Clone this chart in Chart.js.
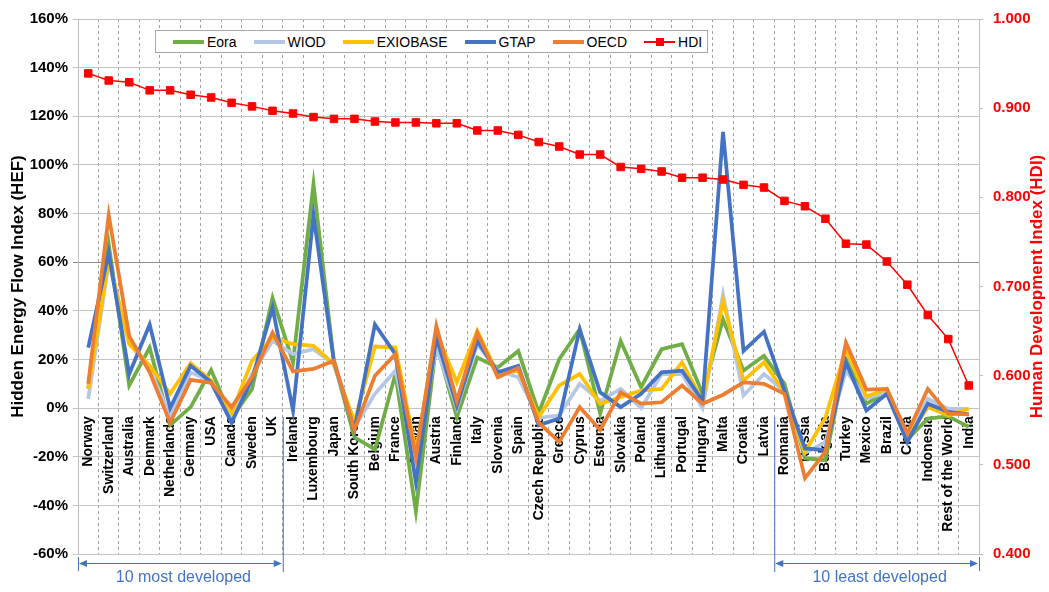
<!DOCTYPE html>
<html>
<head>
<meta charset="utf-8">
<script src="https://cdn.jsdelivr.net/npm/chart.js@4/dist/chart.umd.min.js"></script>
<style>
  html, body { margin: 0; padding: 0; background: #fff; }
  #wrap { position: relative; width: 1049px; height: 592px; }
  #c { display: block; }
  #legend {
    position: absolute; left: 155px; top: 30px; width: 553px; height: 23px;
    border: 1px solid #a6a6a6; background: #fff; box-sizing: border-box;
    display: flex; align-items: center; padding-left: 17px;
    font: 14px "Liberation Sans", Arial, sans-serif; color: #000;
  }
  .item { display: flex; align-items: center; margin-right: 17px; white-space: nowrap; }
  .sw { position: relative; width: 31px; height: 12px; margin-right: 3px; }
  .sw .ln { position: absolute; left: 0; right: 0; top: 4px; height: 4px; }
  .sw .ln.thin { top: 5px; height: 2px; }
  .sw .mk { position: absolute; left: 12px; top: 2px; width: 8px; height: 8px; }
</style>
</head>
<body>
<div id="wrap">
  <canvas id="c" width="1049" height="592"></canvas>
  <div id="legend"></div>
</div>
<script>
// Countries ordered by Human Development Index, highest first
const categories = ['Norway', 'Switzerland', 'Australia', 'Denmark', 'Netherlands', 'Germany', 'USA', 'Canada', 'Sweden', 'UK',
  'Ireland', 'Luxembourg', 'Japan', 'South Korea', 'Belgium', 'France', 'Taiwan', 'Austria', 'Finland', 'Italy',
  'Slovenia', 'Spain', 'Czech Republic', 'Greece', 'Cyprus', 'Estonia', 'Slovakia', 'Poland', 'Lithuania', 'Portugal',
  'Hungary', 'Malta', 'Croatia', 'Latvia', 'Romania', 'Russia', 'Bulgaria', 'Turkey', 'Mexico', 'Brazil',
  'China', 'Indonesia', 'Rest of the World', 'India'];

// Hidden Energy Flow index (%) per MRIO database
const eora = [8, 67.4, 9.3, 24.9, -7, 0.4, 15.7, -4, 7.9, 45.3,
  18.8, 92.2, 19, -12, -17, 14, -42.4, 26.4, -3.7, 20.8,
  16.7, 23.5, -2, 20.1, 32.4, -2.3, 27.6, 8.6, 24.2, 26.3,
  5.9, 36.5, 15.4, 21.5, 10, -20.7, -21.3, 20.1, 1.8, 6.5,
  -13, -4.3, -3.4, -7.7];
const wiod = [3.8, 60, 27, 16, -3, 14.7, 11, -3, 14, 27.6,
  22.2, 24.2, 18, -8, 5.9, 15.4, -22, 24.9, 0, 26.3,
  15.4, 12.7, -4, -3, 10, 3, 7.9, 0, 14, 14,
  0, 46.6, 5.2, 14, 7, -18.5, -14, 15.4, 4, 6.5,
  -12, 3.8, -0.3, -0.3];
const exiobase = [7.9, 61, 26.3, 17.4, 5.9, 18.4, 11.3, -2, 19.5, 29,
  26.3, 25.6, 18, -5.7, 25.3, 24.9, -18, 31, 10.6, 31.7,
  14, 15.4, -3.7, 9.3, 14, 1.8, 4.5, 7.2, 7.9, 18.8,
  3, 44, 11.3, 18.8, 6.5, -18, -4, 24.2, 4.8, 7.9,
  -12, 0.4, -3, -0.3];
const gtap = [24.9, 63.7, 14, 34.4, 0, 17.4, 10.6, -6, 12, 41.2,
  -1, 79.3, 19, -9, 34.4, 22.2, -30.5, 29, 1, 27.6,
  14.7, 17.4, -7, -4.3, 32.4, 6.5, 0.4, 5.9, 14.7, 15.4,
  3, 113.6, 23.5, 31.4, 7.2, -16.6, -17.3, 18.8, -1, 5.9,
  -14, 1.8, -1.6, -2.6];
const oecd = [10, 79.3, 29.7, 14.7, -6, 11.6, 10.4, 0.4, 12.7, 31,
  15.1, 16.1, 19.5, -9, 13.3, 22.2, -20, 33.8, 3, 31,
  12.7, 16.5, -6, -13.9, 0.4, -9, 6.5, 1.8, 2.4, 9.3,
  1.8, 5.5, 10.6, 10, 5.9, -28.8, -18, 26.9, 7.6, 7.9,
  -10.4, 7.9, -2.3, -2.6];

// Human Development Index (right axis)
const hdi = [0.939, 0.931, 0.929, 0.920, 0.920, 0.915, 0.912, 0.906, 0.902, 0.897,
  0.894, 0.890, 0.888, 0.888, 0.885, 0.884, 0.884, 0.883, 0.883, 0.875,
  0.875, 0.870, 0.862, 0.857, 0.848, 0.848, 0.834, 0.832, 0.829, 0.822,
  0.822, 0.820, 0.814, 0.811, 0.796, 0.790, 0.776, 0.748, 0.747, 0.728,
  0.702, 0.668, 0.641, 0.589];

const hefSeries = [
  { label: 'Eora', data: eora, color: '#70AD47' },
  { label: 'WIOD', data: wiod, color: '#B4C7E7' },
  { label: 'EXIOBASE', data: exiobase, color: '#FFC000' },
  { label: 'GTAP', data: gtap, color: '#4472C4' },
  { label: 'OECD', data: oecd, color: '#ED7D31' }
];
const hdiColor = '#FF0000';
const annotBlue = '#4472C4';
const FONT = '"Liberation Sans", Arial, sans-serif';

Chart.defaults.font.family = FONT;
Chart.defaults.color = '#000';

const datasets = hefSeries.map((s, i) => ({
  label: s.label,
  data: s.data,
  yAxisID: 'y',
  borderColor: s.color,
  backgroundColor: s.color,
  borderWidth: 3.75,
  pointRadius: 0,
  tension: 0,
  fill: false,
  order: hefSeries.length - i
}));
datasets.push({
  label: 'HDI',
  data: hdi,
  yAxisID: 'y1',
  borderColor: hdiColor,
  backgroundColor: hdiColor,
  borderWidth: 1.5,
  pointStyle: 'rect',
  pointRadius: 5.3,
  pointBackgroundColor: hdiColor,
  pointBorderColor: hdiColor,
  pointBorderWidth: 1,
  tension: 0,
  fill: false,
  order: 0
});

// Right-hand axis title, reading bottom-to-top
const rightTitle = {
  id: 'rightTitle',
  afterDraw(chart) {
    const { ctx, chartArea, scales: { y1 } } = chart;
    ctx.save();
    ctx.translate(y1.right - 12, (chartArea.top + chartArea.bottom) / 2);
    ctx.rotate(-Math.PI / 2);
    ctx.font = 'bold 17px ' + FONT;
    ctx.fillStyle = hdiColor;
    ctx.textAlign = 'center';
    ctx.textBaseline = 'middle';
    ctx.fillText('Human Development Index (HDI)', 0, 0);
    ctx.restore();
  }
};

// Brackets marking the ten most and ten least developed countries
const brackets = {
  id: 'brackets',
  afterDraw(chart) {
    const { ctx, chartArea, scales: { x, y } } = chart;
    const lineTop = y.getPixelForValue(0) + 9;
    const arrowY = chartArea.bottom + 9;
    const textY = chartArea.bottom + 24;
    const groups = [
      { a: chartArea.left, b: x.getPixelForValue(9.5), divider: 'b', text: '10 most developed' },
      { a: x.getPixelForValue(33.5), b: chartArea.right, divider: 'a', text: '10 least developed' }
    ];
    ctx.save();
    ctx.strokeStyle = annotBlue;
    ctx.fillStyle = annotBlue;
    ctx.lineWidth = 1;
    const head = (px, dir) => {
      ctx.beginPath();
      ctx.moveTo(px, arrowY + 0.5);
      ctx.lineTo(px + dir * 8, arrowY - 3);
      ctx.lineTo(px + dir * 8, arrowY + 4);
      ctx.closePath();
      ctx.fill();
    };
    groups.forEach(g => {
      const dx = g[g.divider];
      const ox = g.divider === 'a' ? g.b : g.a;
      ctx.beginPath();
      ctx.moveTo(dx + 0.5, lineTop);
      ctx.lineTo(dx + 0.5, arrowY + 9);
      ctx.moveTo(ox + 0.5, arrowY - 6);
      ctx.lineTo(ox + 0.5, arrowY + 8);
      ctx.moveTo(g.a + 2, arrowY + 0.5);
      ctx.lineTo(g.b - 2, arrowY + 0.5);
      ctx.stroke();
      head(g.a + 1, 1);
      head(g.b - 1, -1);
      ctx.font = '16px ' + FONT;
      ctx.textAlign = 'center';
      ctx.textBaseline = 'middle';
      ctx.fillText(g.text, (g.a + g.b) / 2 + 3, textY);
    });
    ctx.restore();
  }
};

const chart = new Chart(document.getElementById('c'), {
  type: 'line',
  data: { labels: categories, datasets },
  options: {
    responsive: false,
    animation: false,
    devicePixelRatio: 1,
    layout: { padding: { top: 16, bottom: 38, left: 0, right: 0 } },
    plugins: { legend: { display: false }, tooltip: { enabled: false } },
    scales: {
      x: {
        type: 'category',
        position: { y: 0 },
        offset: true,
        grid: { offset: true, color: '#a0a0a0', lineWidth: 1, drawTicks: false },
        border: { display: false, dash: [3, 3] },
        ticks: {
          autoSkip: false, minRotation: 90, maxRotation: 90, padding: 8,
          font: { size: 14, weight: 'bold' }, color: '#000'
        }
      },
      y: {
        position: 'left',
        min: -60, max: 160,
        afterFit: s => { s.width = 78; },
        grid: {
          color: c => (c.tick && c.tick.value === 60 ? '#8c8c8c' : '#c4c4c4'),
          lineWidth: 1, tickLength: 5
        },
        border: { color: '#bfbfbf' },
        ticks: {
          stepSize: 20, padding: 5,
          font: { size: 15, weight: 'bold' }, color: '#000',
          callback: v => v + '%'
        },
        title: {
          display: true, text: 'Hidden Energy Flow Index (HEF)',
          font: { size: 17, weight: 'bold' }, color: '#000',
          padding: { top: 8, bottom: 0 }
        }
      },
      y1: {
        position: 'right',
        min: 0.4, max: 1.0,
        afterFit: s => { s.width = 70; },
        grid: { drawOnChartArea: false, color: '#bfbfbf', tickLength: 4 },
        border: { color: '#bfbfbf' },
        ticks: {
          stepSize: 0.1, padding: 10,
          font: { size: 15, weight: 'bold' }, color: hdiColor,
          callback: v => v.toFixed(3)
        }
      }
    }
  },
  plugins: [rightTitle, brackets]
});

// Legend box built from the chart's own datasets
const legend = document.getElementById('legend');
const order = [...hefSeries.map(s => s.label), 'HDI'];
order.forEach(name => {
  const ds = chart.data.datasets.find(d => d.label === name);
  const item = document.createElement('div');
  item.className = 'item';
  const sw = document.createElement('span');
  sw.className = 'sw';
  const ln = document.createElement('span');
  ln.className = name === 'HDI' ? 'ln thin' : 'ln';
  ln.style.background = ds.borderColor;
  sw.appendChild(ln);
  if (name === 'HDI') {
    const mk = document.createElement('span');
    mk.className = 'mk';
    mk.style.background = ds.borderColor;
    sw.appendChild(mk);
  }
  const tx = document.createElement('span');
  tx.textContent = name;
  item.appendChild(sw);
  item.appendChild(tx);
  legend.appendChild(item);
});
</script>
</body>
</html>
